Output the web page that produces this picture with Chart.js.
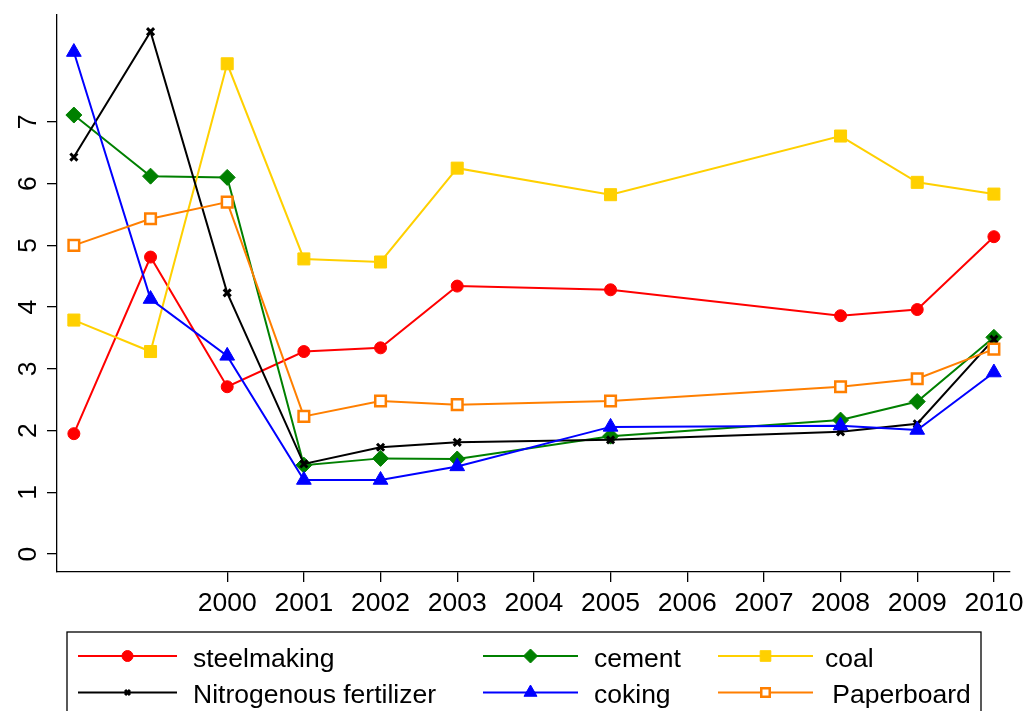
<!DOCTYPE html>
<html>
<head>
<meta charset="utf-8">
<script src="https://cdn.jsdelivr.net/npm/chart.js@4.4.1/dist/chart.umd.min.js"></script>
<style>
html,body{margin:0;padding:0;background:#fff;}
#wrap{width:1024px;height:711px;position:relative;}
</style>
</head>
<body>
<div id="wrap"><canvas id="c" width="1024" height="711"></canvas></div>
<script>
const years = [1998, 1999, 2000, 2001, 2002, 2003, 2005, 2008, 2009, 2010];
const xTickLabels = [2000, 2001, 2002, 2003, 2004, 2005, 2006, 2007, 2008, 2009, 2010];
const yTickLabels = [0, 1, 2, 3, 4, 5, 6, 7];
const seriesNames = ['steelmaking', 'Nitrogenous fertilizer', 'cement', 'coking', 'coal', ' Paperboard'];
const steelmaking = [1.95, 4.81, 2.71, 3.28, 3.34, 4.34, 4.28, 3.86, 3.96, 5.14];
const fertilizer  = [6.43, 8.46, 4.23, 1.46, 1.73, 1.81, 1.85, 1.98, 2.11, 3.48];
const cement      = [7.11, 6.12, 6.10, 1.44, 1.55, 1.54, 1.91, 2.17, 2.47, 3.51];
const coking      = [8.13, 4.13, 3.21, 1.20, 1.20, 1.42, 2.06, 2.08, 2.01, 2.94];
const coal        = [3.79, 3.28, 7.94, 4.78, 4.73, 6.25, 5.82, 6.77, 6.02, 5.83];
const paperboard  = [5.00, 5.43, 5.70, 2.23, 2.48, 2.42, 2.48, 2.71, 2.84, 3.32];

const FONT = '"Liberation Sans", Arial, Helvetica, sans-serif';
const FSIZE = 26.5;
const pts = arr => arr.map((v, i) => ({x: years[i], y: v}));

const styles = [
  {color: '#ff0000', pointStyle: 'circle',   radius: 6,   fill: '#ff0000', bw: 1,   order: 6, lr: 5.5},
  {color: '#000000', pointStyle: 'crossRot', radius: 5,   fill: '#000000', bw: 3,   order: 3, lr: 3.5},
  {color: '#008000', pointStyle: 'rectRot',  radius: 8,   fill: '#008000', bw: 1,   order: 5, lr: 7},
  {color: '#0000ff', pointStyle: 'triangle', radius: 8.5, fill: '#0000ff', bw: 1,   order: 2, lr: 7.5},
  {color: '#ffd000', pointStyle: 'rect',     radius: 8.5, fill: '#ffd000', bw: 1,   order: 4, lr: 7.5},
  {color: '#ff7f00', pointStyle: 'rect',     radius: 7.5, fill: '#ffffff', bw: 2.5, order: 1, lr: 6}
];
const seriesData = [steelmaking, fertilizer, cement, coking, coal, paperboard];

const datasets = seriesData.map((d, i) => ({
  label: seriesNames[i],
  data: pts(d),
  borderColor: styles[i].color,
  backgroundColor: styles[i].fill,
  borderWidth: 2,
  pointStyle: styles[i].pointStyle,
  pointRadius: styles[i].radius,
  pointHoverRadius: styles[i].radius,
  pointBorderWidth: styles[i].bw,
  pointBorderColor: styles[i].color,
  pointBackgroundColor: styles[i].fill,
  tension: 0,
  fill: false,
  order: styles[i].order
}));

// Legend layout (legend positions only)
const legendCols = [{l0: 78, l1: 177, tx: 193}, {l0: 483, l1: 578, tx: 594}, {l0: 718, l1: 813, tx: 825}];
const legendRows = [656, 692.5];
const legendGrid = [[0, 0], [1, 0], [0, 1], [1, 1], [0, 2], [1, 2]]; // [row, col] per dataset

const customPlugin = {
  id: 'custom',
  afterDraw(chart) {
    const ctx = chart.ctx;
    const ys = chart.scales.y;
    ctx.save();
    ctx.fillStyle = '#000';
    ctx.font = FSIZE + 'px ' + FONT;
    ctx.textAlign = 'center';
    ctx.textBaseline = 'alphabetic';
    yTickLabels.forEach(v => {
      const py = ys.getPixelForValue(v);
      ctx.save();
      ctx.translate(36, py);
      ctx.rotate(-Math.PI / 2);
      ctx.fillText(String(v), 0, 0);
      ctx.restore();
    });
    ctx.restore();

    ctx.save();
    ctx.strokeStyle = '#000';
    ctx.lineWidth = 1.3;
    ctx.strokeRect(67, 632, 914, 100);
    ctx.font = FSIZE + 'px ' + FONT;
    ctx.textBaseline = 'alphabetic';
    ctx.textAlign = 'left';
    chart.data.datasets.forEach((ds, i) => {
      const [r, c] = legendGrid[i];
      const col = legendCols[c];
      const y = legendRows[r];
      ctx.strokeStyle = ds.borderColor;
      ctx.lineWidth = 2;
      ctx.beginPath();
      ctx.moveTo(col.l0, y);
      ctx.lineTo(col.l1, y);
      ctx.stroke();
      const mx = (col.l0 + col.l1) / 2;
      ctx.fillStyle = ds.pointBackgroundColor;
      ctx.strokeStyle = ds.pointBorderColor;
      ctx.lineWidth = ds.pointBorderWidth;
      Chart.helpers.drawPoint(ctx, {pointStyle: ds.pointStyle, radius: styles[i].lr, rotation: 0, borderWidth: ds.pointBorderWidth}, mx, y);
      ctx.fillStyle = '#000';
      ctx.fillText(ds.label, col.tx, y + 10.5);
    });
    ctx.restore();
  }
};

new Chart(document.getElementById('c'), {
  type: 'line',
  data: {datasets},
  options: {
    responsive: false,
    animation: false,
    events: [],
    layout: {padding: {top: 15, right: 14, left: 0, bottom: 0}},
    plugins: {legend: {display: false}, tooltip: {enabled: false}},
    scales: {
      x: {
        type: 'linear',
        min: 1997.78,
        max: 2010.21,
        afterBuildTicks: s => { s.ticks = xTickLabels.map(v => ({value: v})); },
        afterFit: s => { s.height = 139; s.paddingLeft = 0; s.paddingRight = 0; },
        border: {display: true, color: '#000', width: 1.3},
        grid: {display: true, drawOnChartArea: false, drawTicks: true, tickLength: 10, color: '#000', lineWidth: 1.3},
        ticks: {
          autoSkip: false, maxRotation: 0, minRotation: 0, padding: 6,
          color: '#000', font: {family: FONT, size: FSIZE},
          callback: v => String(v)
        }
      },
      y: {
        type: 'linear',
        min: -0.29,
        max: 8.73,
        afterBuildTicks: s => { s.ticks = yTickLabels.map(v => ({value: v})); },
        afterFit: s => { s.width = 57; s.paddingTop = 0; s.paddingBottom = 0; },
        border: {display: true, color: '#000', width: 1.3},
        grid: {display: true, drawOnChartArea: false, drawTicks: true, tickLength: 10, color: '#000', lineWidth: 1.3},
        ticks: {display: false}
      }
    }
  },
  plugins: [customPlugin]
});
</script>
</body>
</html>
